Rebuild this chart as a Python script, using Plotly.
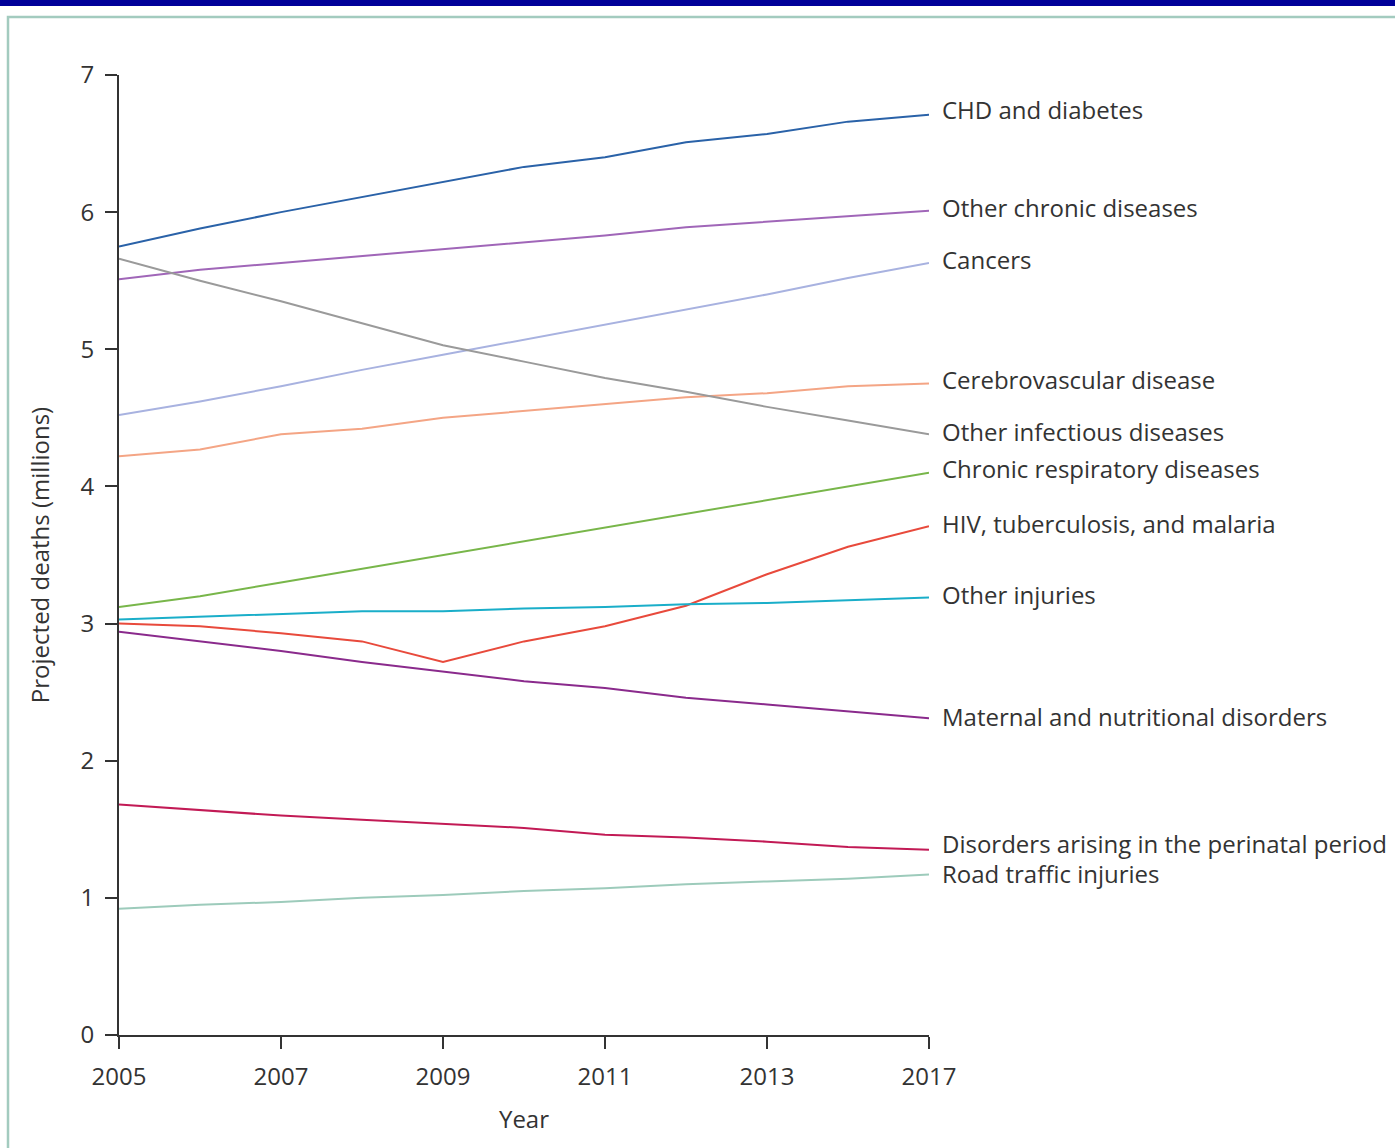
import plotly.graph_objects as go

years = [2005, 2006, 2007, 2008, 2009, 2010, 2011, 2012, 2013, 2014, 2015]
tick_vals = [2005, 2007, 2009, 2011, 2013, 2015]
tick_text = ["2005", "2007", "2009", "2011", "2013", "2017"]

chd_diabetes = [5.75, 5.88, 6.00, 6.11, 6.22, 6.33, 6.40, 6.51, 6.57, 6.66, 6.71]
other_chronic = [5.51, 5.58, 5.63, 5.68, 5.73, 5.78, 5.83, 5.89, 5.93, 5.97, 6.01]
cancers = [4.52, 4.62, 4.73, 4.85, 4.96, 5.07, 5.18, 5.29, 5.40, 5.52, 5.63]
other_infectious = [5.66, 5.50, 5.35, 5.19, 5.03, 4.91, 4.79, 4.69, 4.58, 4.48, 4.38]
cerebrovascular = [4.22, 4.27, 4.38, 4.42, 4.50, 4.55, 4.60, 4.65, 4.68, 4.73, 4.75]
chronic_respiratory = [3.12, 3.20, 3.30, 3.40, 3.50, 3.60, 3.70, 3.80, 3.90, 4.00, 4.10]
hiv_tb_malaria = [3.00, 2.98, 2.93, 2.87, 2.72, 2.87, 2.98, 3.13, 3.36, 3.56, 3.71]
other_injuries = [3.03, 3.05, 3.07, 3.09, 3.09, 3.11, 3.12, 3.14, 3.15, 3.17, 3.19]
maternal_nutritional = [2.94, 2.87, 2.80, 2.72, 2.65, 2.58, 2.53, 2.46, 2.41, 2.36, 2.31]
perinatal = [1.68, 1.64, 1.60, 1.57, 1.54, 1.51, 1.46, 1.44, 1.41, 1.37, 1.35]
road_traffic = [0.92, 0.95, 0.97, 1.00, 1.02, 1.05, 1.07, 1.10, 1.12, 1.14, 1.17]

series_names = [
    "CHD and diabetes", "Other chronic diseases", "Cancers", "Cerebrovascular disease",
    "Other infectious diseases", "Chronic respiratory diseases", "HIV, tuberculosis, and malaria",
    "Other injuries", "Maternal and nutritional disorders",
    "Disorders arising in the perinatal period", "Road traffic injuries",
]
series_values = [
    chd_diabetes, other_chronic, cancers, cerebrovascular, other_infectious,
    chronic_respiratory, hiv_tb_malaria, other_injuries, maternal_nutritional,
    perinatal, road_traffic,
]
colors = ["#2a62a8", "#a066b8", "#a8b2e0", "#f4a585", "#9a9a9a", "#78b64a",
          "#e84a3c", "#1aaec9", "#8a2a8c", "#c21a55", "#9dcbbb"]
label_yshift = [5, 3, 3, 4, 3, 4, 3, 3, 2, 6, 1]

FONT = "Open Sans"
FS = 24
TXT = "#333333"

fig = go.Figure()
for name, vals, col in zip(series_names, series_values, colors):
    fig.add_trace(go.Scatter(x=years, y=vals, mode="lines", name=name,
                             line=dict(color=col, width=2), showlegend=False))

annotations = []
for name, vals, col, ys in zip(series_names, series_values, colors, label_yshift):
    annotations.append(dict(x=years[-1], y=vals[-1], xref="x", yref="y", text=name,
                            showarrow=False, xanchor="left", yanchor="middle",
                            xshift=11, yshift=ys,
                            font=dict(family=FONT, size=FS, color=TXT)))

shapes = [
    # dark blue bar across the top
    dict(type="rect", xref="paper", yref="paper", x0=-0.16, x1=1.6,
         y0=(1035 - 6) / 960, y1=(1035 + 2) / 960,
         fillcolor="#000099", line=dict(width=0), layer="above"),
    # light teal frame
    dict(type="rect", xref="paper", yref="paper", x0=(8 - 119) / 810, x1=1.6,
         y0=-0.2, y1=(1035 - 17) / 960,
         fillcolor="rgba(0,0,0,0)", line=dict(color="#a3cbbf", width=2.5), layer="below"),
]

fig.update_layout(
    width=1395, height=1148,
    margin=dict(l=119, r=466, t=75, b=113),
    paper_bgcolor="white", plot_bgcolor="white",
    font=dict(family=FONT, size=FS, color=TXT),
    annotations=annotations, shapes=shapes,
    xaxis=dict(range=[2005, 2015], tickmode="array", tickvals=tick_vals, ticktext=tick_text,
               showgrid=False, zeroline=False, showline=True, linecolor="#333", linewidth=2,
               ticks="outside", ticklen=12, tickwidth=2, tickcolor="#333",
               ticklabelstandoff=7,
               tickfont=dict(family=FONT, size=FS, color=TXT),
               title=dict(text="Year", font=dict(family=FONT, size=FS, color=TXT), standoff=20)),
    yaxis=dict(range=[0, 7], tickvals=[0, 1, 2, 3, 4, 5, 6, 7],
               showgrid=False, zeroline=False, showline=True, linecolor="#333", linewidth=2,
               ticks="outside", ticklen=12, tickwidth=2, tickcolor="#333",
               ticklabelstandoff=6,
               tickfont=dict(family=FONT, size=FS, color=TXT),
               title=dict(text="Projected deaths (millions)",
                          font=dict(family=FONT, size=FS, color=TXT), standoff=24)),
)

fig.write_html("out.html", config={"displayModeBar": False},
               post_script="document.body.style.margin='0';document.body.style.overflow='hidden';")
